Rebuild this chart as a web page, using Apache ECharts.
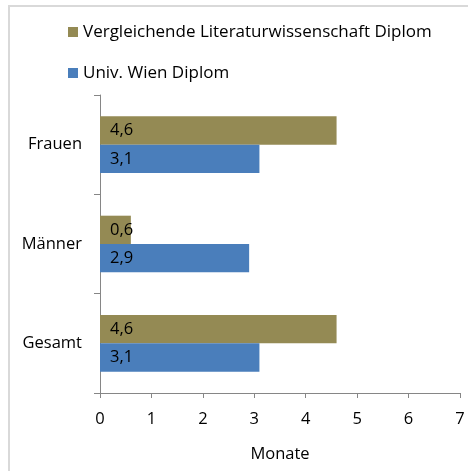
<!DOCTYPE html>
<html>
<head>
<meta charset="utf-8">
<script src="https://cdn.jsdelivr.net/npm/echarts@6/dist/echarts.min.js"></script>
<style>
  html,body{margin:0;padding:0;background:#fff;}
  #chart{width:468px;height:471px;}
</style>
</head>
<body>
<div id="chart"></div>
<script>
// Daten
var categories=['Gesamt','Männer','Frauen']
var wienValues=[3.1,2.9,3.1] //Univ. Wien Diplom
var vlwValues=[4.6,0.6,4.6] //Vergleichende Literaturwissenschaft Diplom
var xTicks=[0,1,2,3,4,5,6,7]

var FONT='Open Sans'
var FS=16.5
var chart=echarts.init(document.getElementById('chart'))

function fmt(p){
  return String(p.value).replace('.',',')
}

var legendText={fontFamily:FONT,fontSize:17,lineHeight:20,color:'#000'}

var option={
  animation:false,
  textStyle:{fontFamily:FONT},
  graphic:[{
    type:'rect',
    shape:{x:9,y:6,width:520,height:520},
    style:{fill:'none',stroke:'#d9d9d9',lineWidth:2},
    silent:true
  }],
  legend:[
    {
      left:68,top:22,padding:0,
      itemWidth:10,itemHeight:10,
      icon:'rect',
      data:['Vergleichende Literaturwissenschaft Diplom'],
      textStyle:legendText
    },
    {
      left:68,top:63,padding:0,
      itemWidth:10,itemHeight:10,
      icon:'rect',
      data:['Univ. Wien Diplom'],
      textStyle:legendText
    }
  ],
  grid:{left:100,right:8,top:95,bottom:78},
  xAxis:{
    type:'value',
    min:0,max:7,interval:1,
    name:'Monate',
    nameLocation:'middle',
    nameGap:53,
    nameTextStyle:{fontFamily:FONT,fontSize:FS,color:'#000'},
    axisLine:{show:true,lineStyle:{color:'#868686'}},
    axisTick:{show:true,length:5,lineStyle:{color:'#868686'}},
    splitLine:{show:false},
    axisLabel:{
      margin:18,fontFamily:FONT,fontSize:FS,color:'#000',
      formatter:function(v){return xTicks.indexOf(v)>=0?String(v):''}
    }
  },
  yAxis:{
    type:'category',
    data:categories,
    axisLine:{show:true,lineStyle:{color:'#868686'}},
    axisTick:{show:true,length:6,lineStyle:{color:'#868686'}},
    axisLabel:{margin:18,fontFamily:FONT,fontSize:FS,color:'#000'}
  },
  series:[
    {
      name:'Vergleichende Literaturwissenschaft Diplom',
      type:'bar',
      data:vlwValues,
      barGap:'0%',
      barCategoryGap:'43%',
      itemStyle:{color:'#948a54'},
      label:{show:true,position:'insideLeft',distance:10,formatter:fmt,fontFamily:FONT,fontSize:FS,color:'#000'}
    },
    {
      name:'Univ. Wien Diplom',
      type:'bar',
      data:wienValues,
      barGap:'0%',
      barCategoryGap:'43%',
      itemStyle:{color:'#4a7ebb'},
      label:{show:true,position:'insideLeft',distance:10,formatter:fmt,fontFamily:FONT,fontSize:FS,color:'#000'}
    }
  ]
}
chart.setOption(option)
</script>
</body>
</html>
